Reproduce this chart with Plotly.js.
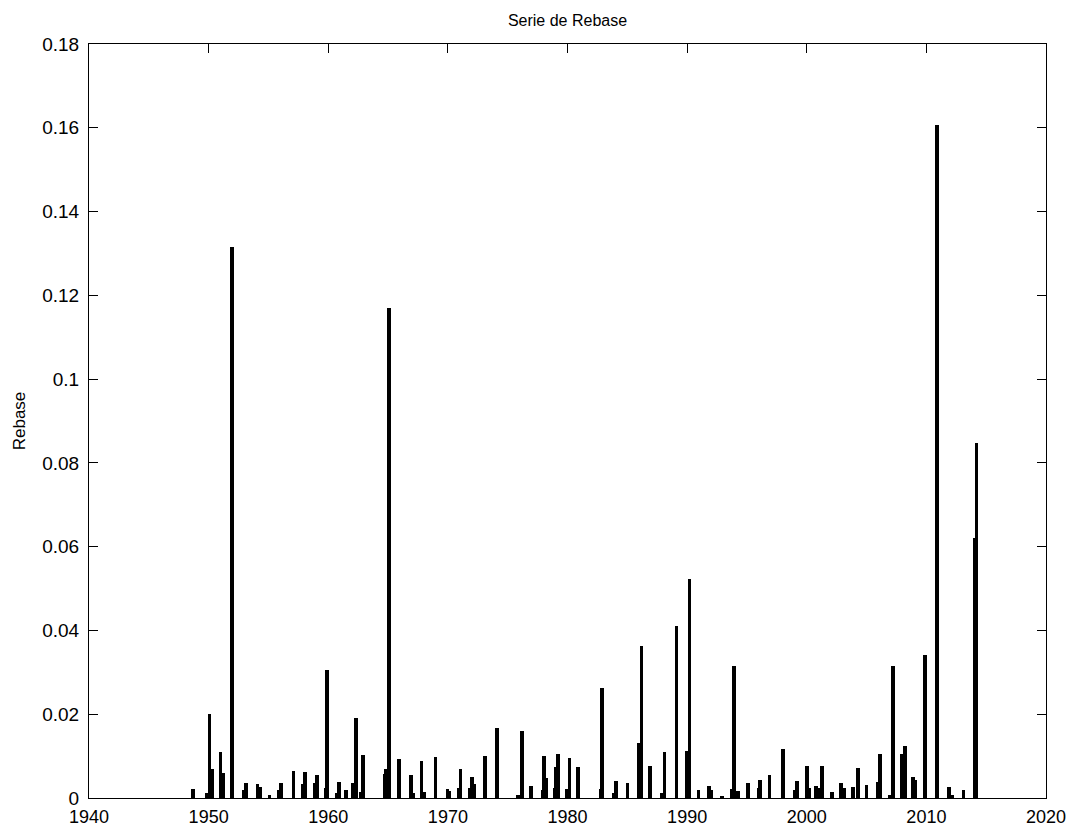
<!DOCTYPE html>
<html>
<head>
<meta charset="utf-8">
<script src="https://cdn.plot.ly/plotly-3.0.1.min.js"></script>
<style>html,body{margin:0;padding:0;background:#fff;}#chart{width:1071px;height:828px;}</style>
</head>
<body>
<div id="chart"></div>
<script>
// Decimal-year positions of the observations
const years = [
  1948.7, 1949.84, 1950.06, 1950.3, 1951.0, 1951.2, 1951.96, 1952.95, 1953.1, 1954.1,
  1954.35, 1955.1, 1955.9, 1956.05, 1957.1, 1957.9, 1958.05, 1958.9, 1959.05, 1959.8,
  1959.9, 1960.75, 1960.9, 1961.5, 1962.05, 1962.3, 1962.75, 1962.9, 1964.7, 1964.85,
  1965.1, 1965.9, 1966.9, 1967.1, 1967.8, 1968.05, 1968.96, 1969.96, 1970.15, 1970.9,
  1971.07, 1971.85, 1972.0, 1972.2, 1973.1, 1974.1, 1975.85, 1976.2, 1976.96, 1977.9,
  1978.05, 1978.25, 1978.95, 1979.05, 1979.2, 1979.95, 1980.16, 1980.9, 1982.75, 1982.87,
  1983.85, 1984.04, 1985.0, 1985.99, 1986.2, 1986.9, 1987.9, 1988.1, 1989.1, 1989.97,
  1990.2, 1990.95, 1991.84, 1992.05, 1992.9, 1993.75, 1993.93, 1994.25, 1995.1, 1995.95,
  1996.1, 1996.9, 1998.0, 1999.0, 1999.2, 2000.0, 2000.2, 2000.75, 2000.95, 2001.27,
  2002.1, 2002.85, 2003.1, 2003.85, 2004.3, 2005.0, 2005.95, 2006.14, 2006.95, 2007.2,
  2007.95, 2008.2, 2008.9, 2009.1, 2009.9, 2010.87, 2011.9, 2012.2, 2013.1, 2014.05,
  2014.2
];
// Rebase values
const rebase = [
  0.0021, 0.0012, 0.0200, 0.0070, 0.0111, 0.0060, 0.1315, 0.0020, 0.0036, 0.0034,
  0.0026, 0.0006, 0.0020, 0.0036, 0.0065, 0.0034, 0.0063, 0.0036, 0.0055, 0.0024,
  0.0306, 0.0012, 0.0039, 0.0018, 0.0036, 0.0191, 0.0014, 0.0103, 0.0057, 0.0069,
  0.1170, 0.0093, 0.0054, 0.0012, 0.0089, 0.0014, 0.0097, 0.0021, 0.0016, 0.0024,
  0.0069, 0.0024, 0.0050, 0.0033, 0.0101, 0.0167, 0.0008, 0.0161, 0.0029, 0.0020,
  0.0101, 0.0048, 0.0024, 0.0074, 0.0105, 0.0021, 0.0095, 0.0073, 0.0021, 0.0263,
  0.0012, 0.0040, 0.0036, 0.0131, 0.0362, 0.0076, 0.0012, 0.0109, 0.0411, 0.0113,
  0.0523, 0.0018, 0.0029, 0.0020, 0.0005, 0.0021, 0.0314, 0.0016, 0.0036, 0.0024,
  0.0042, 0.0055, 0.0118, 0.0020, 0.0040, 0.0076, 0.0024, 0.0029, 0.0024, 0.0076,
  0.0015, 0.0036, 0.0024, 0.0026, 0.0072, 0.0030, 0.0039, 0.0106, 0.0008, 0.0316,
  0.0106, 0.0124, 0.0049, 0.0044, 0.0342, 0.1607, 0.0026, 0.0006, 0.0020, 0.0620,
  0.0847
];
const xTickVals = [1940, 1950, 1960, 1970, 1980, 1990, 2000, 2010, 2020];
const xTickText = ['1940', '1950', '1960', '1970', '1980', '1990', '2000', '2010', '2020'];
const yTickVals = [0, 0.02, 0.04, 0.06, 0.08, 0.1, 0.12, 0.14, 0.16, 0.18];
const yTickText = ['0', '0.02', '0.04', '0.06', '0.08', '0.1', '0.12', '0.14', '0.16', '0.18'];

const trace = {
  type: 'bar',
  x: years,
  y: rebase,
  width: years.map(() => 0.3),
  marker: { color: '#000000', line: { width: 0 } },
  hoverinfo: 'x+y'
};

const fontFam = 'Liberation Sans, Arial, sans-serif';

const axisCommon = {
  showgrid: false,
  zeroline: false,
  showline: true,
  linecolor: '#000',
  linewidth: 1,
  mirror: 'ticks',
  ticks: 'inside',
  ticklen: 9,
  tickwidth: 1,
  tickcolor: '#000'
};

const layout = {
  width: 1071,
  height: 828,
  margin: { l: 89, r: 25, t: 44, b: 30 },
  paper_bgcolor: '#fff',
  plot_bgcolor: '#fff',
  showlegend: false,
  title: {
    text: 'Serie de Rebase',
    font: { family: fontFam, size: 16, color: '#000' },
    x: 0.5, xref: 'paper', xanchor: 'center',
    y: 0.975, yref: 'container', yanchor: 'middle'
  },
  xaxis: Object.assign({}, axisCommon, {
    range: [1940, 2020],
    tickvals: xTickVals,
    ticktext: xTickText,
    tickfont: { family: fontFam, size: 18, color: '#000' },
    ticklabelstandoff: 2
  }),
  yaxis: Object.assign({}, axisCommon, {
    range: [0, 0.18],
    tickvals: yTickVals,
    ticktext: yTickText,
    tickfont: { family: fontFam, size: 19, color: '#000' },
    ticklabelstandoff: 5,
    title: { text: 'Rebase', font: { family: fontFam, size: 17, color: '#000' }, standoff: 12 }
  }),
  bargap: 0
};

Plotly.newPlot('chart', [trace], layout, { displayModeBar: false, staticPlot: true });
</script>
</body>
</html>
